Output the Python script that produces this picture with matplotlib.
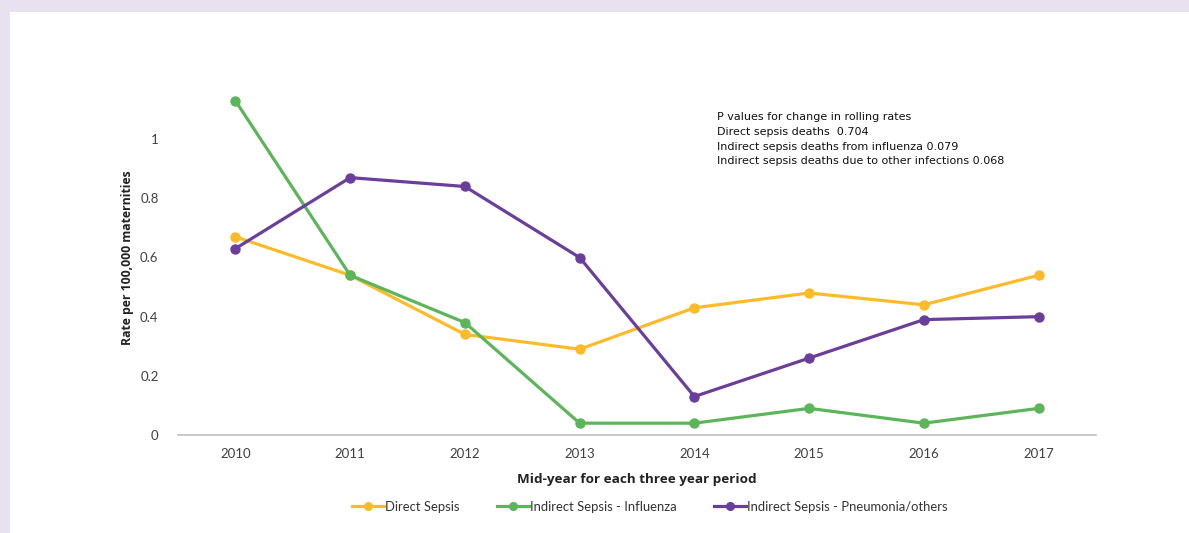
import matplotlib.pyplot as plt
from matplotlib.patches import Rectangle

# data
years = [2010, 2011, 2012, 2013, 2014, 2015, 2016, 2017]
direct = [0.67, 0.54, 0.34, 0.29, 0.43, 0.48, 0.44, 0.54]
influenza = [1.13, 0.54, 0.38, 0.04, 0.04, 0.09, 0.04, 0.09]
pneumonia = [0.63, 0.87, 0.84, 0.60, 0.13, 0.26, 0.39, 0.40]

series_names = ["Direct Sepsis", "Indirect Sepsis - Influenza", "Indirect Sepsis - Pneumonia/others"]
colors = ["#FDBB2A", "#5DB55A", "#6A3F9C"]
ytick_vals = [0, 0.2, 0.4, 0.6, 0.8, 1]
ytick_labels = ["0", "0.2", "0.4", "0.6", "0.8", "1"]

note = ("P values for change in rolling rates\n"
        "Direct sepsis deaths  0.704\n"
        "Indirect sepsis deaths from influenza 0.079\n"
        "Indirect sepsis deaths due to other infections 0.068")

W, H = 1189, 533
fig = plt.figure(figsize=(W / 100, H / 100), dpi=100)
fig.patch.set_facecolor("#E7E1F0")
# white panel
fig.patches.append(Rectangle((10 / W, 0), 1, (H - 12) / H, transform=fig.transFigure,
                             facecolor="white", edgecolor="none", zorder=-5))

ax = fig.add_axes([178 / W, 98 / H, (1096 - 178) / W, (453 - 98) / H])
ax.set_facecolor("none")

for vals, name, c in zip([direct, influenza, pneumonia], series_names, colors):
    ax.plot(years, vals, color=c, lw=2.3, marker="o", ms=6.5, label=name)

ax.set_xlim(2009.5, 2017.5)
ax.set_ylim(0, 1.2)
ax.set_xticks(years)
ax.set_xticklabels([str(y) for y in years], fontsize=9.5, color="#404040", family="Lato")
ax.set_yticks(ytick_vals)
ax.set_yticklabels(ytick_labels, fontsize=9.5, color="#404040", family="Lato")
ax.tick_params(length=0, pad=9)
ax.tick_params(axis="y", pad=14)

for s in ["top", "right", "left"]:
    ax.spines[s].set_visible(False)
ax.spines["bottom"].set_color("#BFBFBF")
ax.spines["bottom"].set_linewidth(1.2)

ax.set_ylabel("Rate per 100,000 maternities", fontsize=8.8, fontweight="bold",
              color="#222222", family="Open Sans", labelpad=4)
ax.set_xlabel("Mid-year for each three year period", fontsize=9.7, fontweight="bold",
              color="#222222", family="Open Sans", labelpad=10)

fig.text(717 / W, 1 - 112 / H, note, fontsize=8.0, va="top", ha="left",
         color="#111111", linespacing=1.6)

leg = fig.legend(loc="center", bbox_to_anchor=(650 / W, 1 - 507 / H), ncol=3,
                 frameon=False, handlelength=2.4, handletextpad=0.1, markerscale=0.85,
                 columnspacing=2.9, prop={"family": "Lato", "size": 9.4})
for t in leg.get_texts():
    t.set_color("#333333")

fig.savefig("out.png", dpi=100, facecolor=fig.get_facecolor())
